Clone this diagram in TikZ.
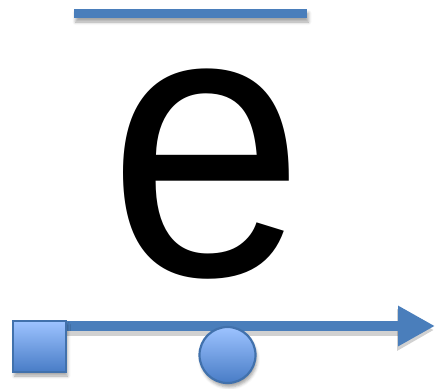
\documentclass[tikz,border=0pt]{standalone}
\usepackage{fontspec}
\setmainfont{Liberation Sans}
\usetikzlibrary{arrows.meta,shadows.blur}
\definecolor{ofblue}{RGB}{74,126,187}
\definecolor{ofedge}{RGB}{65,113,172}
\definecolor{oftop}{RGB}{157,195,255}
\definecolor{ofbot}{RGB}{72,124,198}
\tikzset{
  shapeshadow/.style={blur shadow={shadow xshift=1.5pt, shadow yshift=-4pt, shadow blur radius=3pt, shadow opacity=35}},
  gradbox/.style={draw=ofedge, line width=2.2pt, top color=oftop, bottom color=ofbot, inner sep=0pt, shapeshadow},
  mainline/.style={draw=ofblue, line width=10pt, -{Triangle[length=37pt,width=38pt]}},
  shadowline/.style={draw=black, opacity=0.18, line width=11pt, -{Triangle[length=37pt,width=39pt]}},
}
\begin{document}
\begin{tikzpicture}[x=1pt,y=1pt]
\useasboundingbox (0,0) rectangle (435,-388);
% top bar
\fill[ofblue, shapeshadow] (74,-9) rectangle (307,-18);
% big letter
\node[inner sep=0pt, anchor=base west] (e) at (108.5,-275.5) {\scalebox{0.92}[1]{\fontsize{384}{384}\selectfont e}};
% axis
\coordinate (start) at (60,-326);
\coordinate (tip) at (435,-326);
\coordinate (sstart) at (62,-330);
\coordinate (stip) at (434,-330);
\draw[shadowline] (sstart) -- (stip);
\draw[mainline] (start) -- (tip);
\node[gradbox, minimum width=53pt, minimum height=51pt] (sq) at (39.5,-346.5) {};
\node[gradbox, circle, minimum size=56pt] (c) at (227.5,-355) {};
\end{tikzpicture}
\end{document}
